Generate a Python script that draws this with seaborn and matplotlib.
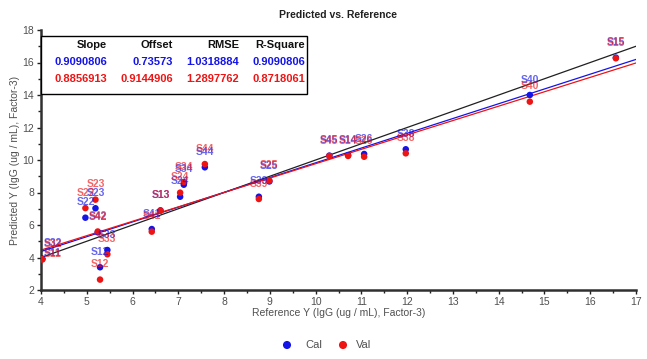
import matplotlib
matplotlib.use("Agg")
import matplotlib.pyplot as plt
import seaborn as sns
import pandas as pd
import numpy as np
from matplotlib.ticker import MultipleLocator

# ---- data ----
samples = ["S32", "S11", "S22", "S23", "S42", "S12", "S33", "S41", "S13", "S24",
           "S34", "S44", "S39", "S25", "S45", "S14", "S26", "S38", "S40", "S15"]
reference = [4.02, 4.03, 4.97, 5.19, 5.24, 5.29, 5.45, 6.42, 6.61, 7.04,
             7.12, 7.58, 8.76, 8.99, 10.30, 10.71, 11.06, 11.97, 14.68, 16.56]
pred_cal = [3.93, 3.92, 6.45, 7.03, 5.55, 3.40, 4.46, 5.75, 6.90, 7.74,
            8.48, 9.55, 7.74, 8.68, 10.27, 10.30, 10.37, 10.66, 14.00, 16.30]
pred_val = [3.90, 3.88, 7.04, 7.56, 5.60, 2.64, 4.20, 5.59, 6.88, 7.99,
            8.65, 9.75, 7.60, 8.73, 10.25, 10.25, 10.20, 10.41, 13.59, 16.26]

stat_names = ["Slope", "Offset", "RMSE", "R-Square"]
cal_stats = ["0.9090806", "0.73573", "1.0318884", "0.9090806"]
val_stats = ["0.8856913", "0.9144906", "1.2897762", "0.8718061"]
cal_slope, cal_offset = 0.9090806, 0.73573
val_slope, val_offset = 0.8856913, 0.9144906

x_range = [4, 17]
y_range = [2, 18]

BLUE = "#1414e6"
RED = "#ee1414"
GRAY = "#505050"

sns.set_theme(style="white")
plt.rcParams["font.family"] = ["Liberation Sans", "DejaVu Sans"]

fig = plt.figure(figsize=(6.47, 3.59), dpi=100)
ax = fig.add_axes([41 / 647, 1 - 290 / 359, 595 / 647, 260 / 359])

df = pd.DataFrame({
    "sample": samples * 2,
    "ref": reference * 2,
    "pred": pred_cal + pred_val,
    "set": ["Cal"] * len(samples) + ["Val"] * len(samples),
})

# reference line and fitted lines
lines = pd.DataFrame({
    "x": x_range * 3,
    "y": [x_range[0], x_range[1],
          cal_slope * x_range[0] + cal_offset, cal_slope * x_range[1] + cal_offset,
          val_slope * x_range[0] + val_offset, val_slope * x_range[1] + val_offset],
    "line": ["Target"] * 2 + ["Cal"] * 2 + ["Val"] * 2,
})
sns.lineplot(data=lines, x="x", y="y", hue="line",
             palette={"Target": "#202020", "Cal": BLUE, "Val": RED},
             linewidth=0.9, legend=False, ax=ax, zorder=2)

sns.scatterplot(data=df, x="ref", y="pred", hue="set",
                palette={"Cal": BLUE, "Val": RED}, s=22, linewidth=0,
                legend=False, ax=ax, zorder=3)

# labels
for _, r in df.iterrows():
    col = BLUE if r["set"] == "Cal" else RED
    dy = 11
    if r["sample"] == "S11":
        dy = 4
    ha = "center"
    dx = 0
    if r["ref"] < 4.3:
        ha = "left"
        dx = 1
    ax.annotate(r["sample"], (r["ref"], r["pred"]), xytext=(dx, dy),
                textcoords="offset points", ha=ha, va="center",
                fontsize=7.5, fontweight="bold", color=col, alpha=0.65,
                zorder=4, annotation_clip=False)

ax.set_xlim(*x_range)
ax.set_ylim(*y_range)
ax.xaxis.set_major_locator(MultipleLocator(1))
ax.xaxis.set_minor_locator(MultipleLocator(0.5))
ax.yaxis.set_major_locator(MultipleLocator(2))
ax.yaxis.set_minor_locator(MultipleLocator(1))
ax.tick_params(axis="both", which="major", direction="out", length=3, width=1,
               color="#202020", labelsize=7.5, labelcolor=GRAY, pad=2,
               bottom=True, left=True)
ax.tick_params(axis="both", which="minor", direction="out", length=2, width=1,
               color="#202020", bottom=True, left=True)
for side in ["top", "right"]:
    ax.spines[side].set_visible(False)
for side in ["left", "bottom"]:
    ax.spines[side].set_color("#303030")
    ax.spines[side].set_linewidth(1.8)

ax.set_xlabel("Reference Y (IgG (ug / mL), Factor-3)", fontsize=7.5, color=GRAY, labelpad=1)
ax.set_ylabel("Predicted Y (IgG (ug / mL), Factor-3)", fontsize=7.5, color=GRAY, labelpad=2)
fig.text(338 / 647, 1 - 15 / 359, "Predicted vs. Reference", ha="center", va="center",
         fontsize=7.5, fontweight="bold", color="#202020")

# statistics table
box = plt.Rectangle((41 / 647, 1 - 94 / 359), 266 / 647, 58 / 359, transform=fig.transFigure,
                    facecolor="white", edgecolor="black", linewidth=1.0, zorder=5)
fig.add_artist(box)
col_right = [107, 173, 239, 305]
for i in range(4):
    xf = col_right[i] / 647
    fig.text(xf, 1 - 45 / 359, stat_names[i], ha="right", va="center", fontsize=8,
             fontweight="bold", color="#101010", zorder=6)
    fig.text(xf, 1 - 62 / 359, cal_stats[i], ha="right", va="center", fontsize=8,
             fontweight="bold", color=BLUE, zorder=6)
    fig.text(xf, 1 - 79 / 359, val_stats[i], ha="right", va="center", fontsize=8,
             fontweight="bold", color=RED, zorder=6)

# bottom legend
leg_ax = fig.add_axes([0, 0, 1, 1], facecolor="none")
leg_ax.set_xlim(0, 647)
leg_ax.set_ylim(359, 0)
leg_ax.axis("off")
leg = pd.DataFrame({"x": [287, 343], "y": [345, 345], "set": ["Cal", "Val"]})
sns.scatterplot(data=leg, x="x", y="y", hue="set", palette={"Cal": BLUE, "Val": RED},
                s=34, linewidth=0, legend=False, ax=leg_ax)
leg_ax.text(305, 345, "Cal", ha="left", va="center", fontsize=8, color=GRAY)
leg_ax.text(356, 345, "Val", ha="left", va="center", fontsize=8, color=GRAY)

fig.savefig("out.png", dpi=100)
